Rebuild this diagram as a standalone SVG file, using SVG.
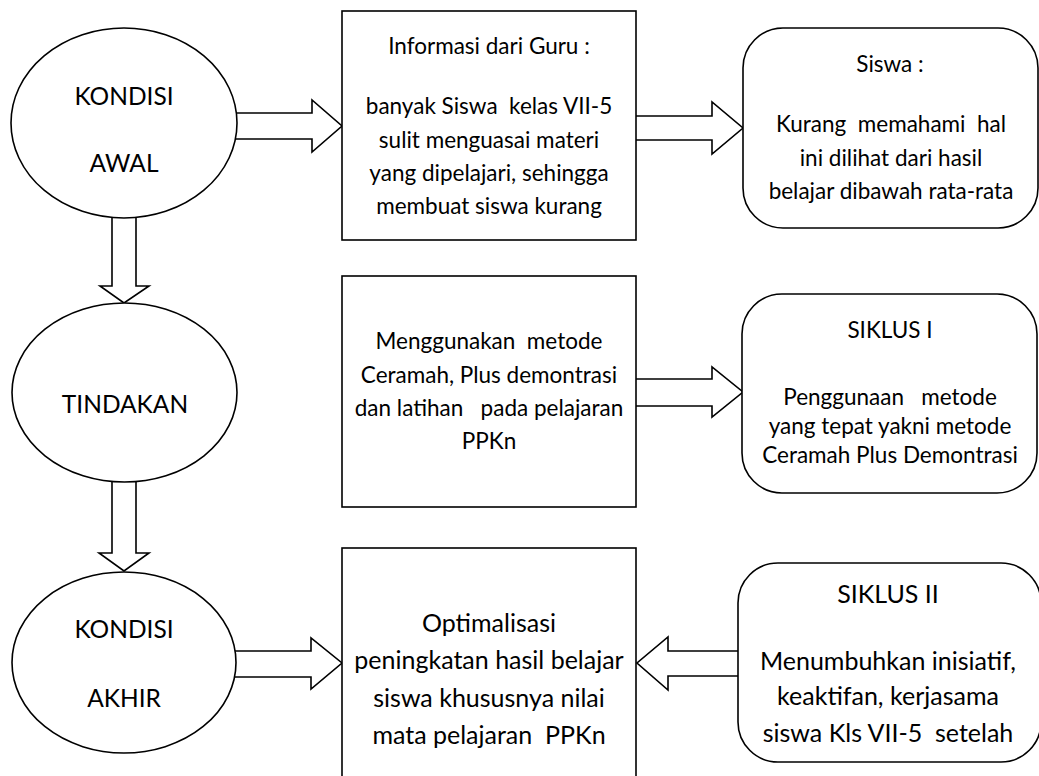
<svg xmlns="http://www.w3.org/2000/svg" width="1039" height="776" viewBox="0 0 1039 776">
<style>
.shape{fill:#fff;stroke:#000;stroke-width:1.6}
.arrow{fill:#fff;stroke:#000;stroke-width:1.6;stroke-linejoin:miter}
text{font-family:Lato,"Open Sans","Liberation Sans",sans-serif;fill:#000;text-anchor:middle}
.t{font-size:22.5px}
.e{font-size:24.5px}
.b{font-size:25px}
</style>
<rect width="1039" height="776" fill="#fff"/>
<g id="connectors">
<polygon class="arrow" points="225,113 312,113 312,100 342,126 312,152 312,139 225,139"/>
<polygon class="arrow" points="630,116 712,116 712,102 743,128 712,154 712,140 630,140"/>
<polygon class="arrow" points="630,379 712,379 712,367 743,392 712,417 712,406 630,406"/>
<polygon class="arrow" points="225,651 311,651 311,638 342,663 311,689 311,677 225,677"/>
<polygon class="arrow" points="745,651 668,651 668,637 637,663 668,690 668,676 745,676"/>
<polygon class="arrow" points="112,205 112,286 100,286 124,303 149,286 136,286 136,205"/>
<polygon class="arrow" points="112,470 112,553 99,553 124,571 149,553 136,553 136,470"/>
</g>
<g id="kondisi-awal">
<ellipse class="shape" cx="124" cy="123" rx="113" ry="95"/>
<text class="e" x="124" y="105">KONDISI</text>
<text class="e" x="124" y="172">AWAL</text>
</g>
<g id="tindakan">
<ellipse class="shape" cx="124.5" cy="392.5" rx="112.5" ry="89.5"/>
<text class="e" x="125" y="413">TINDAKAN</text>
</g>
<g id="kondisi-akhir">
<ellipse class="shape" cx="124" cy="662.5" rx="112" ry="90.5"/>
<text class="e" x="124" y="638">KONDISI</text>
<text class="e" x="124" y="707">AKHIR</text>
</g>
<g id="info-guru">
<rect class="shape" x="342" y="11" width="294" height="229"/>
<text class="t" x="489" y="54">Informasi dari Guru :</text>
<text class="t" x="489" y="114" xml:space="preserve">banyak Siswa  kelas VII-5</text>
<text class="t" x="489" y="148">sulit menguasai materi</text>
<text class="t" x="489" y="181">yang dipelajari, sehingga</text>
<text class="t" x="489" y="214">membuat siswa kurang</text>
</g>
<g id="siswa">
<rect class="shape" x="743" y="28" width="295" height="200" rx="40" ry="40"/>
<text class="t" x="890" y="72">Siswa :</text>
<text class="t" x="891" y="132" xml:space="preserve">Kurang  memahami  hal</text>
<text class="t" x="891" y="166">ini dilihat dari hasil</text>
<text class="t" x="891" y="199">belajar dibawah rata-rata</text>
</g>
<g id="metode">
<rect class="shape" x="342" y="276" width="294" height="231"/>
<text class="t" x="489" y="349" xml:space="preserve">Menggunakan  metode</text>
<text class="t" x="489" y="383">Ceramah, Plus demontrasi</text>
<text class="t" x="489" y="416" xml:space="preserve">dan latihan   pada pelajaran</text>
<text class="t" x="489" y="449">PPKn</text>
</g>
<g id="siklus-1">
<rect class="shape" x="742" y="294" width="295" height="199" rx="40" ry="40"/>
<text class="t" x="890" y="338">SIKLUS I</text>
<text class="t" x="890" y="405" xml:space="preserve">Penggunaan   metode</text>
<text class="t" x="890" y="434">yang tepat yakni metode</text>
<text class="t" x="890" y="463">Ceramah Plus Demontrasi</text>
</g>
<g id="optimalisasi">
<rect class="shape" x="342" y="548" width="294" height="240"/>
<text class="b" x="489" y="632">Optimalisasi</text>
<text class="b" x="489" y="669">peningkatan hasil belajar</text>
<text class="b" x="489" y="707">siswa khususnya nilai</text>
<text class="b" x="489" y="744" xml:space="preserve">mata pelajaran  PPKn</text>
</g>
<g id="siklus-2">
<rect class="shape" x="738" y="563" width="303" height="199" rx="40" ry="40"/>
<text class="b" x="888" y="603">SIKLUS II</text>
<text class="b" x="888" y="670">Menumbuhkan inisiatif,</text>
<text class="b" x="888" y="705">keaktifan, kerjasama</text>
<text class="b" x="888" y="742" xml:space="preserve">siswa Kls VII-5  setelah</text>
</g>
</svg>
